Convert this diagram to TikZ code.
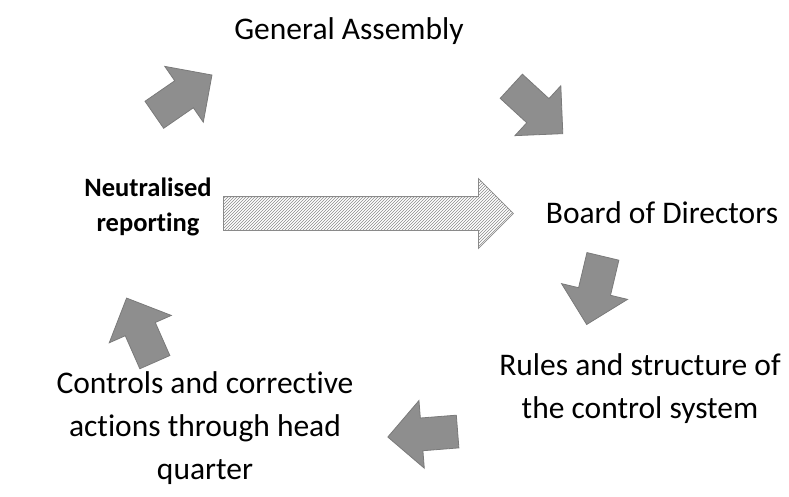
\documentclass[tikz,border=0pt]{standalone}
\usepackage{fontspec}
\setmainfont{Carlito}[Ligatures=NoCommon]
\usetikzlibrary{positioning,shapes.arrows,patterns}
\definecolor{cArrow}{HTML}{8E8E8E}
\definecolor{cArrowEdge}{HTML}{7A7A7A}
\definecolor{cHatch}{HTML}{8A8A8A}

\tikzset{
  label/.style={align=center,inner sep=0pt,font=\fontsize{31.5}{43}\selectfont},
  cycarrow/.style={single arrow,draw=cArrowEdge,fill=cArrow,line width=0.8pt,
    inner sep=16pt,minimum width=0pt,minimum height=70pt,
    single arrow head extend=17.5pt,single arrow head indent=0pt,anchor=tail},
  hatcharrow/.style={single arrow,draw=cHatch,pattern=north east lines,pattern color=cHatch,
    line width=0.8pt,inner sep=16.5pt,minimum width=0pt,minimum height=290pt,
    single arrow head extend=18pt,single arrow head indent=0pt,anchor=tail}
}

\begin{document}
\begin{tikzpicture}[x=1pt,y=-1pt]
  \useasboundingbox (0,0) rectangle (789,497);

  % texts
  \node[label] (ga) at (349,31) {General Assembly};
  \node[label] (board) at (662,213) {Board of Directors};
  \node[label] (rules) at (640,389) {Rules and structure of\\the control system};
  \node[label] (controls) at (205,428) {Controls and corrective\\actions through head\\quarter};
  \node[label,font=\fontsize{26.5}{35}\selectfont\bfseries] (neutral) at (148,207)
    {Neutralised\\reporting};

  % cycle arrows
  \node[cycarrow,rotate=34.6] (a1) at (154,115) {};
  \node[cycarrow,rotate=-42.6] (a2) at (511,86) {};
  \node[cycarrow,rotate=-103.4] (a3) at (603,256) {};
  \node[cycarrow,rotate=184.5] (a4) at (458,431.5) {};
  \node[cycarrow,rotate=113.8] (a5) at (155,362.5) {};

  % reporting shortcut
  \node[hatcharrow] (main) at (223,213.5) {};
\end{tikzpicture}
\end{document}
